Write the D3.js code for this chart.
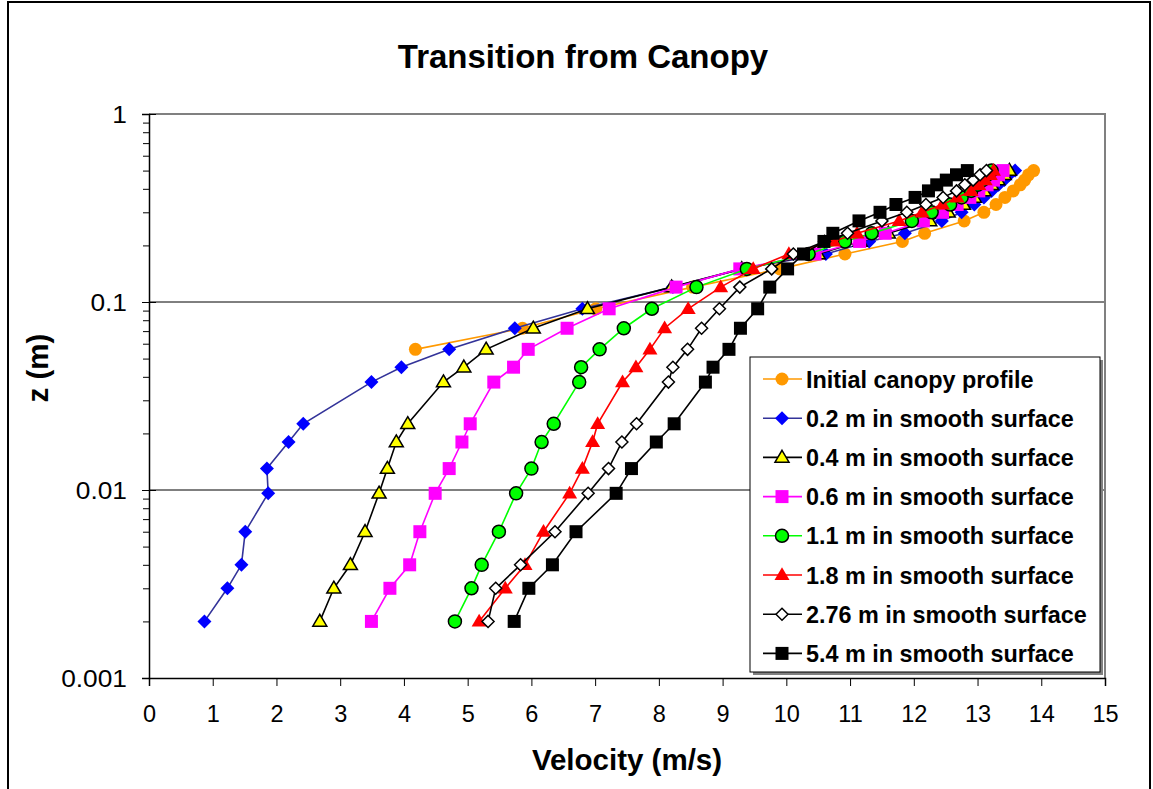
<!DOCTYPE html>
<html>
<head>
<meta charset="utf-8">
<script src="https://cdn.jsdelivr.net/npm/d3@7/dist/d3.min.js"></script>
<style>
  html, body { margin: 0; padding: 0; background: #fff; }
  svg { display: block; font-family: "Liberation Sans", Arial, sans-serif; }
</style>
</head>
<body>
<svg id="chart" width="1153" height="789"></svg>
<script>
// Heights above ground (m) shared by the profiles
const zLevels = [0.002, 0.003, 0.004, 0.006, 0.0096, 0.013, 0.018, 0.0225, 0.0375, 0.045,
  0.056, 0.0725, 0.092, 0.12, 0.15, 0.18, 0.21, 0.232, 0.27, 0.30, 0.33, 0.36, 0.39,
  0.42, 0.445, 0.475, 0.5];
// The canopy profile starts above the canopy top
const zCanopy = [0.056, 0.0725, 0.092, 0.12, 0.15, 0.18, 0.21, 0.232, 0.27, 0.30, 0.33,
  0.36, 0.39, 0.42, 0.445, 0.475, 0.5];

// Velocities (m/s)
const initialCanopy = [4.18, 5.86, 7.01, 8.53, 9.9, 10.92, 11.82, 12.17, 12.79, 13.10, 13.29,
  13.43, 13.56, 13.67, 13.74, 13.80, 13.88];
const smooth02 = [0.87, 1.23, 1.45, 1.51, 1.87, 1.85, 2.19, 2.42, 3.49, 3.96, 4.71, 5.74, 6.80,
  8.22, 9.3, 10.62, 11.3, 11.86, 12.44, 12.75, 12.95, 13.1, 13.22, 13.33, 13.42, 13.5, 13.59];
const smooth04 = [2.68, 2.90, 3.16, 3.39, 3.61, 3.74, 3.88, 4.06, 4.62, 4.94, 5.29, 6.03, 6.88,
  8.2, 9.3, 10.5, 11.16, 11.6, 12.25, 12.54, 12.78, 12.95, 13.1, 13.22, 13.32, 13.42, 13.5];
const smooth06 = [3.49, 3.78, 4.09, 4.25, 4.49, 4.71, 4.91, 5.04, 5.41, 5.72, 5.95, 6.56, 7.22,
  8.27, 9.27, 10.45, 11.15, 11.55, 12.15, 12.45, 12.68, 12.88, 13.02, 13.15, 13.25, 13.33, 13.4];
const smooth11 = [4.80, 5.06, 5.22, 5.49, 5.76, 6.0, 6.16, 6.35, 6.75, 6.78, 7.07, 7.45, 7.89,
  8.59, 9.38, 10.35, 10.92, 11.34, 11.97, 12.28, 12.57, 12.75, 12.9, 13.0, 13.08, 13.15, 13.22];
const smooth18 = [5.18, 5.59, 5.90, 6.19, 6.60, 6.80, 6.96, 7.04, 7.43, 7.64, 7.86, 8.09, 8.46,
  8.97, 9.48, 10.04, 10.74, 11.11, 11.77, 12.13, 12.45, 12.68, 12.9, 13.02, 13.12, 13.2, 13.25];
const smooth276 = [5.32, 5.44, 5.83, 6.37, 6.89, 7.21, 7.42, 7.65, 8.15, 8.22, 8.45, 8.67, 8.95,
  9.27, 9.77, 10.11, 10.6, 10.96, 11.5, 11.89, 12.19, 12.46, 12.67, 12.8, 12.93, 13.04, 13.14];
const smooth54 = [5.73, 5.96, 6.33, 6.70, 7.33, 7.57, 7.96, 8.24, 8.73, 8.85, 9.10, 9.28, 9.55,
  9.74, 10.02, 10.27, 10.59, 10.73, 11.14, 11.47, 11.72, 12.02, 12.23, 12.36, 12.51, 12.67, 12.84];

const seriesNames = ["Initial canopy profile", "0.2 m in smooth surface", "0.4 m in smooth surface",
  "0.6 m in smooth surface", "1.1 m in smooth surface", "1.8 m in smooth surface",
  "2.76 m in smooth surface", "5.4 m in smooth surface"];

// Axis ticks
const xTicks = [0, 1, 2, 3, 4, 5, 6, 7, 8, 9, 10, 11, 12, 13, 14, 15];
const yMajorTicks = [0.001, 0.01, 0.1, 1];
const yTickLabels = ["0.001", "0.01", "0.1", "1"];

// Series styling
const styles = [
  { line: "#FF9900", shape: "circle",   fill: "#FF9900", stroke: "none",  r: 6.5 },
  { line: "#333399", shape: "diamond",  fill: "#0000FF", stroke: "none",  r: 7 },
  { line: "#000000", shape: "triangle", fill: "#FFFF00", stroke: "#000",  r: 7 },
  { line: "#FF00FF", shape: "square",   fill: "#FF00FF", stroke: "none",  r: 6.5 },
  { line: "#00FF00", shape: "circle",   fill: "#00FF00", stroke: "#000",  r: 6.5 },
  { line: "#FF0000", shape: "triangle", fill: "#FF0000", stroke: "none",  r: 7.5 },
  { line: "#000000", shape: "diamond",  fill: "#FFFFFF", stroke: "#000",  r: 6 },
  { line: "#000000", shape: "square",   fill: "#000000", stroke: "none",  r: 6.5 }
];

const seriesData = [
  [zCanopy, initialCanopy], [zLevels, smooth02], [zLevels, smooth04], [zLevels, smooth06],
  [zLevels, smooth11], [zLevels, smooth18], [zLevels, smooth276], [zLevels, smooth54]
];

const svg = d3.select("#chart");
const plot = { left: 149, right: 1105, top: 114, bottom: 678 };

const x = d3.scaleLinear().domain([0, 15]).range([plot.left, plot.right]);
const y = d3.scaleLog().domain([0.001, 1]).range([plot.bottom, plot.top]);

// Outer chart frame
svg.append("rect").attr("x", 8).attr("y", 2).attr("width", 1142).attr("height", 800)
  .attr("fill", "#fff").attr("stroke", "#000").attr("stroke-width", 2);

// Title
svg.append("text").attr("x", 583).attr("y", 68).attr("text-anchor", "middle")
  .attr("font-size", 33).attr("font-weight", "bold").text("Transition from Canopy");

// Horizontal gridlines at the inner decades
svg.append("g").selectAll("line").data([0.01, 0.1]).join("line")
  .attr("x1", plot.left).attr("x2", plot.right)
  .attr("y1", d => y(d)).attr("y2", d => y(d))
  .attr("stroke", "#000").attr("stroke-width", 1);

// Plot area border (top and right in grey)
svg.append("path")
  .attr("d", `M${plot.left},${plot.top}H${plot.right}V${plot.bottom}`)
  .attr("fill", "none").attr("stroke", "#808080").attr("stroke-width", 2);

// X axis
const xAxis = d3.axisBottom(x).tickValues(xTicks).tickSize(8).tickPadding(19).tickFormat(d3.format("d"));
const gx = svg.append("g").attr("transform", `translate(0,${plot.bottom})`).call(xAxis);
gx.select(".domain").attr("stroke", "#000").attr("stroke-width", 1.5);
gx.selectAll(".tick line").attr("stroke", "#000");
gx.selectAll(".tick text").attr("font-size", 23.5).attr("fill", "#000")
  .attr("font-family", "'Liberation Sans', Arial, sans-serif");

// Y axis: major ticks cross the axis, minor ticks sit outside
const yMinor = [];
for (let dec = 0.001; dec < 1; dec *= 10) {
  for (let k = 2; k <= 9; k++) yMinor.push(+(dec * k).toPrecision(3));
}
const yAxisMinor = d3.axisLeft(y).tickValues(yMinor).tickSize(6).tickFormat("");
const gyMinor = svg.append("g").attr("transform", `translate(${plot.left},0)`).call(yAxisMinor);
gyMinor.select(".domain").remove();
gyMinor.selectAll(".tick line").attr("stroke", "#000");

const yAxis = d3.axisLeft(y).tickValues(yMajorTicks).tickSize(7).tickPadding(15)
  .tickFormat((d, i) => yTickLabels[i]);
const gy = svg.append("g").attr("transform", `translate(${plot.left},0)`).call(yAxis);
gy.select(".domain").attr("stroke", "#000").attr("stroke-width", 1.5);
gy.selectAll(".tick line").attr("stroke", "#000").attr("x2", 7).attr("x1", -7);
gy.selectAll(".tick text").attr("font-size", 23.5).attr("fill", "#000")
  .attr("font-family", "'Liberation Sans', Arial, sans-serif")
  .attr("x", null).attr("dy", null)
  .attr("transform", "translate(-22,8) scale(1.12,1)");

// Axis titles
svg.append("text").attr("x", (plot.left + plot.right) / 2).attr("y", 770)
  .attr("text-anchor", "middle").attr("font-size", 29.5).attr("font-weight", "bold")
  .text("Velocity (m/s)");
svg.append("text")
  .attr("transform", `translate(48,368) rotate(-90)`)
  .attr("text-anchor", "middle").attr("font-size", 29.5).attr("font-weight", "bold")
  .text("z (m)");

// Marker shapes
function markerPath(shape, r) {
  switch (shape) {
    case "circle":
      return `M${-r},0A${r},${r} 0 1,0 ${r},0A${r},${r} 0 1,0 ${-r},0Z`;
    case "square":
      return `M${-r},${-r}H${r}V${r}H${-r}Z`;
    case "diamond":
      return `M0,${-r}L${r},0L0,${r}L${-r},0Z`;
    case "triangle": {
      const h = r * 1.7;
      return `M0,${-h * 0.6}L${r},${h * 0.4}L${-r},${h * 0.4}Z`;
    }
  }
}

const line = d3.line().x(d => x(d[0])).y(d => y(d[1]));

const gSeries = svg.append("g");
seriesData.forEach(([zs, vs], i) => {
  const st = styles[i];
  const pts = vs.map((v, j) => [v, zs[j]]);
  const g = gSeries.append("g");
  g.append("path").datum(pts).attr("d", line)
    .attr("fill", "none").attr("stroke", st.line).attr("stroke-width", 1.6);
  g.selectAll("path.m").data(pts).join("path").attr("class", "m")
    .attr("transform", d => `translate(${x(d[0])},${y(d[1])})`)
    .attr("d", markerPath(st.shape, st.r))
    .attr("fill", st.fill)
    .attr("stroke", st.stroke).attr("stroke-width", st.stroke === "none" ? 0 : 1.5);
});

// Legend
const lg = { x: 750, y: 357, w: 350, h: 315, row0: 379, rowStep: 39.2 };
svg.append("rect").attr("x", lg.x + 3).attr("y", lg.y + 3).attr("width", lg.w).attr("height", lg.h)
  .attr("fill", "#808080");
svg.append("rect").attr("x", lg.x).attr("y", lg.y).attr("width", lg.w).attr("height", lg.h)
  .attr("fill", "#fff").attr("stroke", "#000").attr("stroke-width", 1);

const legendRows = svg.append("g").selectAll("g").data(seriesNames).join("g")
  .attr("transform", (d, i) => `translate(0,${lg.row0 + i * lg.rowStep})`);
legendRows.append("line").attr("x1", 763).attr("x2", 802).attr("y1", 0).attr("y2", 0)
  .attr("stroke", (d, i) => styles[i].line).attr("stroke-width", 1.6);
legendRows.append("path")
  .attr("transform", "translate(782,0)")
  .attr("d", (d, i) => markerPath(styles[i].shape, styles[i].r))
  .attr("fill", (d, i) => styles[i].fill)
  .attr("stroke", (d, i) => styles[i].stroke)
  .attr("stroke-width", (d, i) => styles[i].stroke === "none" ? 0 : 1.5);
legendRows.append("text").attr("x", 806).attr("y", 8.5)
  .attr("font-size", 23.4).attr("font-weight", "bold").text(d => d);
</script>
</body>
</html>
